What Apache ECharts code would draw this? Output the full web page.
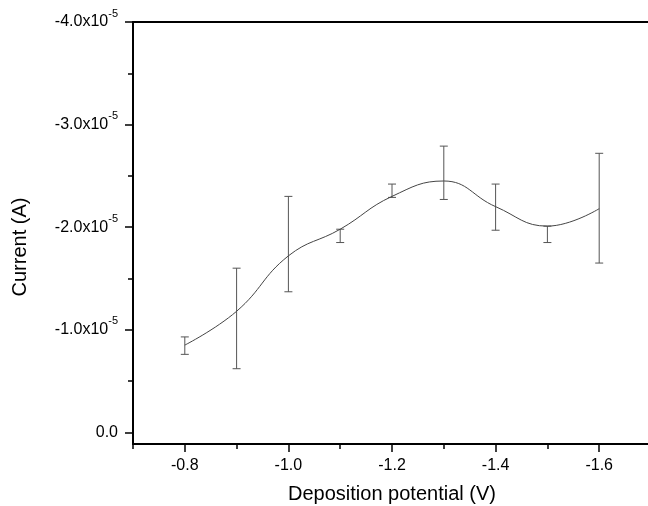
<!DOCTYPE html>
<html><head><meta charset="utf-8">
<script src="https://cdn.jsdelivr.net/npm/echarts@6/dist/echarts.min.js"></script>
<style>html,body{margin:0;padding:0;background:#fff}#c{width:648px;height:506px}</style>
</head><body><div id="c"></div>
<script>
// Deposition potential (V)
const potentials = [-0.8, -0.9, -1.0, -1.1, -1.2, -1.3, -1.4, -1.5, -1.6];
// Current (A) along the fitted curve
const currents = [-0.85e-5, -1.18e-5, -1.72e-5, -1.98e-5, -2.30e-5, -2.45e-5, -2.20e-5, -2.01e-5, -2.18e-5];
// Error bar ends (A)
const errLow  = [-0.76e-5, -0.62e-5, -1.37e-5, -1.85e-5, -2.29e-5, -2.27e-5, -1.97e-5, -1.85e-5, -1.65e-5];
const errHigh = [-0.93e-5, -1.60e-5, -2.30e-5, -1.98e-5, -2.42e-5, -2.79e-5, -2.42e-5, -2.01e-5, -2.72e-5];
// Ticks
const xMajorTicks = [-0.8, -1.0, -1.2, -1.4, -1.6];
const xMinorTicks = [-0.7, -0.9, -1.1, -1.3, -1.5];
const yMajorTicks = [0, -1e-5, -2e-5, -3e-5, -4e-5];
const yTickMantissa = ['0.0', '-1.0', '-2.0', '-3.0', '-4.0'];
const yMinorTicks = [-0.5e-5, -1.5e-5, -2.5e-5, -3.5e-5];

const FONT = 'Liberation Sans, Arial, sans-serif';
const chart = echarts.init(document.getElementById('c'));
const gridRect = {left: 133, top: 22, right: -3, bottom: 62, outerBoundsMode: 'none', containLabel: false};
const xRange = {min: -1.7, max: -0.7, inverse: true};
const yRange = {min: -4e-5, max: 0.114e-5, inverse: true};

function yLabel(v) {
  for (let i = 0; i < yMajorTicks.length; i++) {
    if (Math.abs(v - yMajorTicks[i]) < 1e-9) {
      return yMajorTicks[i] === 0 ? '{a|' + yTickMantissa[i] + '}' : '{a|' + yTickMantissa[i] + 'x10}{s|-5}';
    }
  }
  return '';
}

chart.setOption({
  animation: false,
  grid: [Object.assign({}, gridRect), Object.assign({}, gridRect)],
  xAxis: [
    Object.assign({
      type: 'value', gridIndex: 0, position: 'bottom',
      name: 'Deposition potential (V)', nameLocation: 'middle', nameGap: 40,
      nameTextStyle: {fontFamily: FONT, fontSize: 20, color: '#000'},
      axisLine: {show: true, onZero: false, lineStyle: {color: '#000', width: 2}},
      axisTick: {show: true, customValues: xMajorTicks, length: 8, lineStyle: {color: '#000', width: 1.5}},
      axisLabel: {customValues: xMajorTicks, formatter: v => v.toFixed(1), fontFamily: FONT, fontSize: 16, color: '#000', margin: 14},
      splitLine: {show: false}
    }, xRange),
    Object.assign({
      type: 'value', gridIndex: 1, position: 'bottom',
      axisLine: {show: false, onZero: false},
      axisTick: {show: true, customValues: xMinorTicks, length: 5, lineStyle: {color: '#000', width: 1.5}},
      axisLabel: {show: false}, splitLine: {show: false}
    }, xRange),
    Object.assign({
      type: 'value', gridIndex: 1, position: 'top',
      axisLine: {show: true, onZero: false, lineStyle: {color: '#000', width: 2}},
      axisTick: {show: false}, axisLabel: {show: false}, splitLine: {show: false}
    }, xRange)
  ],
  yAxis: [
    Object.assign({
      type: 'value', gridIndex: 0, position: 'left',
      name: 'Current (A)', nameLocation: 'middle', nameGap: 103, nameRotate: 90,
      nameTextStyle: {fontFamily: FONT, fontSize: 20, color: '#000', padding: [0, 28, 0, 0]},
      axisLine: {show: true, onZero: false, lineStyle: {color: '#000', width: 2}},
      axisTick: {show: true, customValues: yMajorTicks, length: 8, lineStyle: {color: '#000', width: 1.5}},
      axisLabel: {
        customValues: yMajorTicks, formatter: yLabel, margin: 15,
        rich: {
          a: {fontFamily: FONT, fontSize: 16, color: '#000', lineHeight: 28},
          s: {fontFamily: FONT, fontSize: 11, color: '#000', verticalAlign: 'top'}
        }
      },
      splitLine: {show: false}
    }, yRange),
    Object.assign({
      type: 'value', gridIndex: 1, position: 'left',
      axisLine: {show: false, onZero: false},
      axisTick: {show: true, customValues: yMinorTicks, length: 5, lineStyle: {color: '#000', width: 1.5}},
      axisLabel: {show: false}, splitLine: {show: false}
    }, yRange)
  ],
  series: [
    {
      type: 'line', xAxisIndex: 0, yAxisIndex: 0,
      data: potentials.map((p, i) => [p, currents[i]]),
      smooth: 0.45, symbol: 'none',
      lineStyle: {color: '#444', width: 1}
    },
    {
      type: 'custom', xAxisIndex: 0, yAxisIndex: 0,
      data: potentials.map((p, i) => [p, errLow[i], errHigh[i]]),
      renderItem: function (params, api) {
        const x = api.value(0);
        const a = api.coord([x, api.value(1)]);
        const b = api.coord([x, api.value(2)]);
        const w = 4;
        const st = {stroke: '#555', lineWidth: 1};
        return {
          type: 'group',
          children: [
            {type: 'line', shape: {x1: a[0], y1: a[1], x2: b[0], y2: b[1]}, style: st},
            {type: 'line', shape: {x1: a[0] - w, y1: a[1], x2: a[0] + w, y2: a[1]}, style: st},
            {type: 'line', shape: {x1: b[0] - w, y1: b[1], x2: b[0] + w, y2: b[1]}, style: st}
          ]
        };
      },
      encode: {x: 0, y: [1, 2]}
    }
  ]
});
</script></body></html>
